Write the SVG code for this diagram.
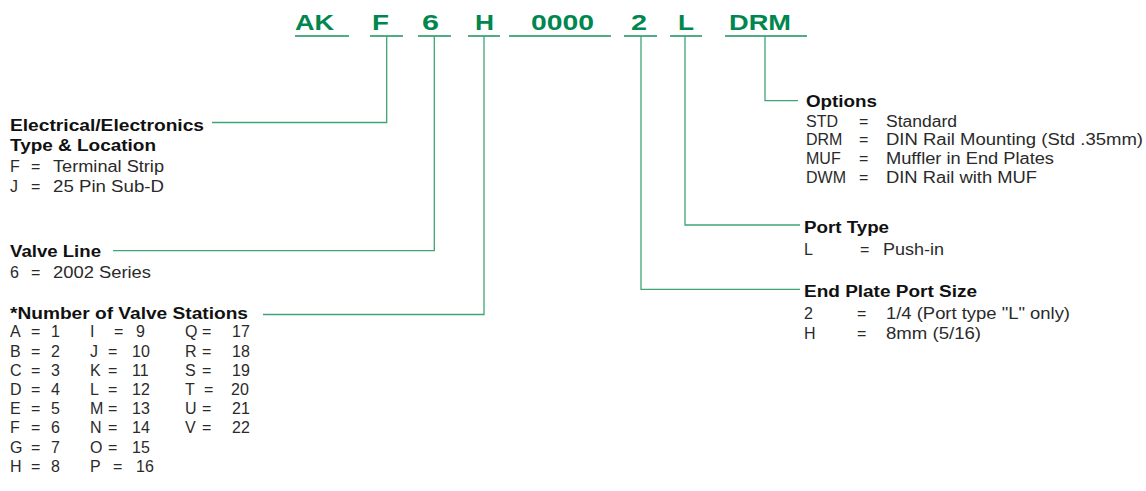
<svg xmlns="http://www.w3.org/2000/svg" width="1146" height="491" viewBox="0 0 1146 491">
<style>
  .code { font-family: "Liberation Sans", Arial, Helvetica, sans-serif; font-weight: bold; font-size: 22px; fill: #00864f; }
  .ul { stroke: #1a935c; stroke-width: 1.6; fill: none; }
  .cn { stroke: #3fa577; stroke-width: 1.3; fill: none; }
  .h { font-family: "Liberation Sans", Arial, Helvetica, sans-serif; font-weight: bold; font-size: 16px; fill: #111; }
  .t { font-family: "Liberation Sans", Arial, Helvetica, sans-serif; font-size: 16px; fill: #2a2a2a; }
</style>
<rect width="1146" height="491" fill="#fff"/>

<g id="code">
  <text class="code" x="295" y="29.5" textLength="39" lengthAdjust="spacingAndGlyphs">AK</text>
  <text class="code" x="372" y="29.5" textLength="17" lengthAdjust="spacingAndGlyphs">F</text>
  <text class="code" x="422" y="29.5" textLength="17" lengthAdjust="spacingAndGlyphs">6</text>
  <text class="code" x="475" y="29.5" textLength="19" lengthAdjust="spacingAndGlyphs">H</text>
  <text class="code" x="531" y="29.5" textLength="63" lengthAdjust="spacingAndGlyphs">0000</text>
  <text class="code" x="631" y="29.5" textLength="16" lengthAdjust="spacingAndGlyphs">2</text>
  <text class="code" x="678" y="29.5" textLength="16" lengthAdjust="spacingAndGlyphs">L</text>
  <text class="code" x="729" y="29.5" textLength="62" lengthAdjust="spacingAndGlyphs">DRM</text>
  <path class="ul" d="M295,36H349 M370,36H403 M418,36H451 M468,36H500 M509,36H611 M624,36H657 M670,36H702 M725,36H807"/>
</g>

<g id="connectors">
  <path class="cn" d="M386.7,36V122.5H212"/>
  <path class="cn" d="M434.3,36V250.7H113"/>
  <path class="cn" d="M484,36V314.5H263"/>
  <path class="cn" d="M641,36V289.3H800"/>
  <path class="cn" d="M685,36V225H800"/>
  <path class="cn" d="M765,36V100.7H798"/>
</g>

<g id="electrical">
  <text class="h" x="10" y="131" textLength="194" lengthAdjust="spacingAndGlyphs">Electrical/Electronics</text>
  <text class="h" x="10" y="151" textLength="146" lengthAdjust="spacingAndGlyphs">Type &amp; Location</text>
  <text class="t" x="10" y="172">F</text><text class="t" x="31" y="172">=</text>
  <text class="t" x="53" y="172" textLength="111" lengthAdjust="spacingAndGlyphs">Terminal Strip</text>
  <text class="t" x="10" y="191.5">J</text><text class="t" x="31" y="191.5">=</text>
  <text class="t" x="53" y="191.5" textLength="111" lengthAdjust="spacingAndGlyphs">25 Pin Sub-D</text>
</g>

<g id="valve-line">
  <text class="h" x="10" y="256.7" textLength="91" lengthAdjust="spacingAndGlyphs">Valve Line</text>
  <text class="t" x="10" y="278">6</text><text class="t" x="31" y="278">=</text>
  <text class="t" x="53" y="278" textLength="98" lengthAdjust="spacingAndGlyphs">2002 Series</text>
</g>

<g id="stations">
  <text class="h" x="10" y="319.3" textLength="238" lengthAdjust="spacingAndGlyphs">*Number of Valve Stations</text>
  <g class="t">
    <text x="10" y="337.3">A</text><text x="31" y="337.3">=</text><text x="51" y="337.3">1</text>
    <text x="10" y="356.7">B</text><text x="31" y="356.7">=</text><text x="51" y="356.7">2</text>
    <text x="10" y="376">C</text><text x="31" y="376">=</text><text x="51" y="376">3</text>
    <text x="10" y="395">D</text><text x="31" y="395">=</text><text x="51" y="395">4</text>
    <text x="10" y="414.3">E</text><text x="31" y="414.3">=</text><text x="51" y="414.3">5</text>
    <text x="10" y="433.3">F</text><text x="31" y="433.3">=</text><text x="51" y="433.3">6</text>
    <text x="10" y="452.7">G</text><text x="31" y="452.7">=</text><text x="51" y="452.7">7</text>
    <text x="10" y="471.7">H</text><text x="31" y="471.7">=</text><text x="51" y="471.7">8</text>

    <text x="90" y="337.3">I</text><text x="114" y="337.3">=</text><text x="136" y="337.3">9</text>
    <text x="90" y="356.7">J</text><text x="108" y="356.7">=</text><text x="132" y="356.7">10</text>
    <text x="90" y="376">K</text><text x="108" y="376">=</text><text x="132" y="376">11</text>
    <text x="90" y="395">L</text><text x="108" y="395">=</text><text x="132" y="395">12</text>
    <text x="90" y="414.3">M</text><text x="108" y="414.3">=</text><text x="132" y="414.3">13</text>
    <text x="90" y="433.3">N</text><text x="108" y="433.3">=</text><text x="132" y="433.3">14</text>
    <text x="90" y="452.7">O</text><text x="108" y="452.7">=</text><text x="132" y="452.7">15</text>
    <text x="90" y="471.7">P</text><text x="113" y="471.7">=</text><text x="136" y="471.7">16</text>

    <text x="185" y="337.3">Q</text><text x="202" y="337.3">=</text><text x="232" y="337.3">17</text>
    <text x="185" y="356.7">R</text><text x="202" y="356.7">=</text><text x="232" y="356.7">18</text>
    <text x="185" y="376">S</text><text x="202" y="376">=</text><text x="232" y="376">19</text>
    <text x="185" y="395">T</text><text x="204" y="395">=</text><text x="231" y="395">20</text>
    <text x="185" y="414.3">U</text><text x="202" y="414.3">=</text><text x="232" y="414.3">21</text>
    <text x="185" y="433.3">V</text><text x="202" y="433.3">=</text><text x="232" y="433.3">22</text>
  </g>
</g>

<g id="options">
  <text class="h" x="806" y="106.5" textLength="71" lengthAdjust="spacingAndGlyphs">Options</text>
  <g class="t">
    <text x="806" y="126.5">STD</text><text x="859" y="126.5">=</text>
    <text x="886" y="126.5" textLength="71" lengthAdjust="spacingAndGlyphs">Standard</text>
    <text x="806" y="145.3">DRM</text><text x="859" y="145.3">=</text>
    <text x="886" y="145.3" textLength="257" lengthAdjust="spacingAndGlyphs">DIN Rail Mounting (Std .35mm)</text>
    <text x="806" y="164">MUF</text><text x="859" y="164">=</text>
    <text x="886" y="164" textLength="168" lengthAdjust="spacingAndGlyphs">Muffler in End Plates</text>
    <text x="806" y="182.5">DWM</text><text x="859" y="182.5">=</text>
    <text x="886" y="182.5" textLength="151" lengthAdjust="spacingAndGlyphs">DIN Rail with MUF</text>
  </g>
</g>

<g id="port-type">
  <text class="h" x="804" y="233.3" textLength="85" lengthAdjust="spacingAndGlyphs">Port Type</text>
  <text class="t" x="804" y="255">L</text><text class="t" x="860" y="255">=</text>
  <text class="t" x="883" y="255" textLength="61" lengthAdjust="spacingAndGlyphs">Push-in</text>
</g>

<g id="end-plate">
  <text class="h" x="804" y="297.3" textLength="173" lengthAdjust="spacingAndGlyphs">End Plate Port Size</text>
  <text class="t" x="804" y="319.3">2</text><text class="t" x="857" y="319.3">=</text>
  <text class="t" x="886" y="319.3" textLength="184" lengthAdjust="spacingAndGlyphs">1/4 (Port type "L" only)</text>
  <text class="t" x="804" y="338.5">H</text><text class="t" x="857" y="338.5">=</text>
  <text class="t" x="886" y="338.5" textLength="95" lengthAdjust="spacingAndGlyphs">8mm (5/16)</text>
</g>
</svg>
